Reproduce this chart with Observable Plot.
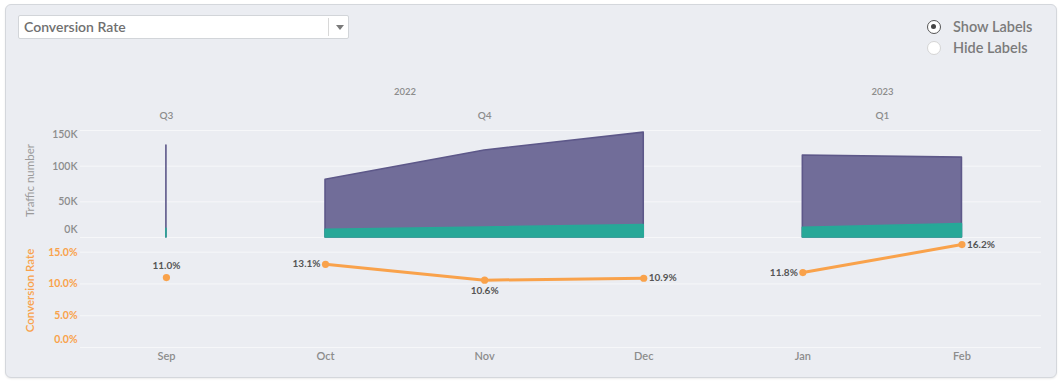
<!DOCTYPE html>
<html>
<head>
<meta charset="utf-8">
<script src="https://cdn.jsdelivr.net/npm/d3@7"></script>
<script src="https://cdn.jsdelivr.net/npm/@observablehq/plot@0.6"></script>
<style>
html,body{margin:0;padding:0;background:#fff;}
body{width:1061px;height:382px;position:relative;overflow:hidden;font-family:Lato,"Open Sans",sans-serif;}
#panel{position:absolute;left:5px;top:4px;width:1052px;height:374px;background:#ebedf2;border:1px solid #d4d7dc;border-radius:6px;box-sizing:border-box;box-shadow:0 1px 2px rgba(0,0,0,0.08);}
#dropdown{position:absolute;left:18px;top:15px;width:331px;height:24px;background:#fff;border:1px solid #d2d5d9;box-sizing:border-box;border-radius:2px;font-size:14px;font-weight:600;color:#707070;line-height:22px;padding-left:5px;}
#dropdown .sep{position:absolute;left:309px;top:2px;width:1px;height:18px;background:#d8d8d8;}
#dropdown .caret{position:absolute;left:317px;top:9px;width:0;height:0;border-left:4px solid transparent;border-right:4px solid transparent;border-top:5px solid #7a7a7a;}
.radio{position:absolute;left:927px;font-size:14.5px;font-weight:600;color:#7b7b7b;line-height:18px;}
.radio .c{position:absolute;left:0;top:2px;width:14px;height:14px;border-radius:50%;background:#fff;border:1px solid #d5d5d5;box-sizing:border-box;}
.radio .c.on{border:1.5px solid #555;}
.radio .c.on::after{content:"";position:absolute;left:3px;top:3px;width:5px;height:5px;border-radius:50%;background:#444;}
.radio span{position:absolute;left:26px;top:0;white-space:nowrap;}
.plotbox{position:absolute;left:0;}
</style>
</head>
<body>
<div id="panel"></div>
<div id="dropdown">Conversion Rate<div class="sep"></div><div class="caret"></div></div>
<div class="radio" style="top:18px"><div class="c on"></div><span>Show Labels</span></div>
<div class="radio" style="top:39px"><div class="c"></div><span>Hide Labels</span></div>
<div id="topChart" class="plotbox" style="top:80px"></div>
<div id="bottomChart" class="plotbox" style="top:230px"></div>
<script>
// ---- data ----
const months = ["Sep", "Oct", "Nov", "Dec", "Jan", "Feb"];
const quarters = ["Q3", "Q4", "Q4", "Q4", "Q1", "Q1"];
const years = ["2022", "2022", "2022", "2022", "2023", "2023"];
const traffic = [129000, 81000, 122000, 147000, 115000, 112000];
const conversions = [12200, 10800, 14000, 17300, 13600, 18700];
const conversionRate = [11.0, 13.1, 10.6, 10.9, 11.8, 16.2];
const trafficTicks = [0, 50000, 100000, 150000];
const rateTicks = [0, 5, 10, 15];

// ---- layout / style ----
const labelSide = ["top", "left", "bottom", "right", "left", "right"];
const PURPLE = "#716d99", PURPLE_EDGE = "#5d5889", TEAL = "#27a898", ORANGE = "#f9a24b";
const GRID = "#f6f7f9", GRAY = "#8c8c8c";
const W = 1061, ML = 80, MR = 20;
const xDomain = [-0.54, 5.5];
const FONT = "Lato, 'Open Sans', sans-serif";

const rows = months.map((m, i) => ({
  i, month: m, q: quarters[i], year: years[i], group: years[i] + quarters[i],
  traffic: traffic[i], conversions: conversions[i], rate: conversionRate[i]
}));
const qGroups = d3.groups(rows, d => d.group).map(([k, v]) => ({label: v[0].q, x: d3.mean(v, d => d.i)}));
const yGroups = d3.groups(rows, d => d.year).map(([k, v]) => ({label: k, x: d3.mean(v, d => d.i)}));

const kfmt = d => (d / 1000) + "K";

const chartTop = Plot.plot({
  width: W, height: 160, marginLeft: ML, marginRight: MR, marginTop: 50, marginBottom: 3,
  style: {background: "transparent", overflow: "visible", fontFamily: FONT},
  x: {domain: xDomain, axis: null},
  y: {domain: [0, 150000], axis: null},
  marks: [
    Plot.gridY(trafficTicks, {stroke: GRID, strokeOpacity: 1, strokeWidth: 1}),
    Plot.axisY(trafficTicks.filter(t => t > 0 && t < 150000), {tickSize: 0, tickPadding: 3, tickFormat: kfmt, fontSize: 10.5, fontWeight: 600, color: GRAY, label: null}),
    Plot.axisY([150000], {tickSize: 0, tickPadding: 3, tickFormat: kfmt, fontSize: 10.5, fontWeight: 600, color: GRAY, dy: 4, label: null}),
    Plot.axisY([0], {tickSize: 0, tickPadding: 3, tickFormat: kfmt, fontSize: 10.5, fontWeight: 600, color: GRAY, dy: -8, label: null}),
    Plot.areaY(rows, {x: "i", y: "traffic", z: "group", fill: PURPLE, stroke: PURPLE_EDGE, strokeWidth: 1.6}),
    Plot.areaY(rows, {x: "i", y: "conversions", z: "group", fill: TEAL, stroke: TEAL, strokeWidth: 1.6}),
    Plot.text(yGroups, {x: "x", text: "label", frameAnchor: "top", lineAnchor: "middle", dy: -39, fontSize: 9.5, fontWeight: 600, fill: GRAY}),
    Plot.text(qGroups, {x: "x", text: "label", frameAnchor: "top", lineAnchor: "middle", dy: -15, fontSize: 10, fontWeight: 600, fill: GRAY}),
    Plot.text(["Traffic number"], {text: d => d, frameAnchor: "left", dx: -50, dy: -3.5, rotate: -90, textAnchor: "middle", fontSize: 11.5, fill: "#9a9a9a"})
  ]
});
document.getElementById("topChart").appendChild(chartTop);

const pct = d => d.toFixed(1) + "%";
const sides = {
  top: {dy: -12, textAnchor: "middle"},
  bottom: {dy: 11, textAnchor: "middle"},
  left: {dx: -5, textAnchor: "end"},
  right: {dx: 5, textAnchor: "start"}
};

const chartBottom = Plot.plot({
  width: W, height: 140, marginLeft: ML, marginRight: MR, marginTop: 9, marginBottom: 23,
  style: {background: "transparent", overflow: "visible", fontFamily: FONT},
  x: {domain: xDomain, axis: null},
  y: {domain: [0, 17], axis: null},
  marks: [
    Plot.gridY(rateTicks, {stroke: GRID, strokeOpacity: 1, strokeWidth: 1}),
    Plot.axisY(rateTicks.filter(t => t > 0), {tickSize: 0, tickPadding: 3, tickFormat: pct, fontSize: 10.5, fontWeight: 700, color: ORANGE, label: null}),
    Plot.axisY([0], {tickSize: 0, tickPadding: 3, tickFormat: pct, fontSize: 10.5, fontWeight: 700, color: ORANGE, dy: -8, label: null}),
    Plot.axisX(rows.map(d => d.i), {tickSize: 0, tickPadding: 5, tickFormat: i => months[i], fontSize: 11, fontWeight: 600, color: GRAY, label: null}),
    Plot.line(rows, {x: "i", y: "rate", z: "group", stroke: ORANGE, strokeWidth: 3}),
    Plot.dot(rows, {x: "i", y: "rate", r: 3.6, fill: ORANGE}),
    ...Object.entries(sides).map(([s, o]) => Plot.text(rows.filter((d, i) => labelSide[i] === s), {
      x: "i", y: "rate", text: d => pct(d.rate), fontSize: 10, fontWeight: 700, fill: "#555", ...o
    })),
    Plot.text(["Conversion Rate"], {text: d => d, frameAnchor: "left", dx: -50, dy: -3, rotate: -90, textAnchor: "middle", fontSize: 11.5, fontWeight: 600, fill: ORANGE})
  ]
});
document.getElementById("bottomChart").appendChild(chartBottom);
</script>
</body>
</html>
